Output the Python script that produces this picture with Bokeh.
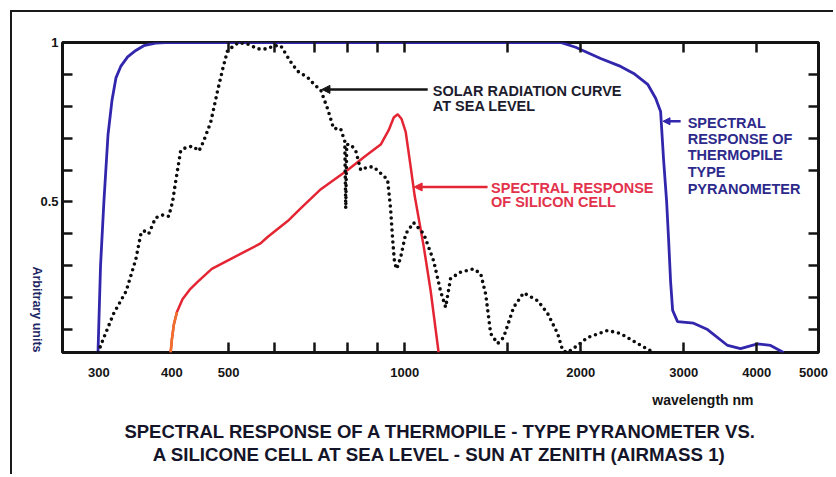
from bokeh.plotting import figure
from bokeh.models import (Range1d, FixedTicker, LogAxis, LinearAxis, Label, Arrow,
                          NormalHead, BasicTickFormatter, Title)
from bokeh.embed import file_html
from bokeh.resources import INLINE
import math

# ---------------- data ----------------
# Solar radiation at sea level (dotted)
solar_nm = [299, 306, 318, 334, 347, 354, 358, 365, 375, 387, 395, 401, 406, 414, 422,
            434, 445, 453, 466, 479, 489, 498, 520, 539, 561, 583, 597, 614, 638, 656,
            683, 699, 719, 739, 756, 777, 790, 793, 796, 809, 825, 841, 865, 885, 910,
            935, 946, 954, 961, 969, 984, 1004, 1036, 1078, 1121, 1152, 1175, 1198, 1246,
            1312, 1349, 1376, 1403, 1442, 1476, 1536, 1597, 1689, 1756, 1826, 1863, 1899,
            1975, 2055, 2223, 2340, 2502, 2665]
solar_val = [0.028, 0.075, 0.15, 0.22, 0.32, 0.40, 0.41, 0.40, 0.45, 0.46, 0.455, 0.50, 0.565,
             0.66, 0.67, 0.675, 0.66, 0.69, 0.75, 0.85, 0.92, 0.975, 1.0, 0.995, 0.98, 0.98,
             0.99, 0.99, 0.94, 0.91, 0.89, 0.87, 0.85, 0.79, 0.73, 0.73, 0.69, 0.48, 0.68,
             0.68, 0.66, 0.60, 0.61, 0.61, 0.59, 0.57, 0.48, 0.38, 0.31, 0.29, 0.325, 0.40,
             0.435, 0.40, 0.315, 0.22, 0.17, 0.26, 0.28, 0.29, 0.275, 0.21, 0.0875, 0.056,
             0.075, 0.17, 0.215, 0.19, 0.15, 0.0875, 0.034, 0.028, 0.05, 0.075, 0.097,
             0.0875, 0.056, 0.028]

# Spectral response of silicon cell (red)
si_nm = [398, 400, 403, 408, 417, 429, 443, 468, 498, 530, 567, 583, 631, 664, 719, 799,
         858, 910, 939, 958, 973, 988, 1004, 1024, 1040, 1078, 1108, 1143]
si_val = [0.028, 0.07, 0.115, 0.155, 0.195, 0.225, 0.25, 0.29, 0.316, 0.342, 0.37, 0.39,
          0.44, 0.48, 0.54, 0.60, 0.645, 0.68, 0.725, 0.765, 0.775, 0.76, 0.72, 0.61, 0.52,
          0.36, 0.22, 0.028]

# Spectral response of thermopile pyranometer (blue)
thermo_nm = [299, 302, 306, 311, 316, 321, 327, 336, 347, 358, 375, 390, 500, 1000, 1848,
             1960, 2163, 2340, 2464, 2603, 2686, 2739, 2772, 2805, 2827, 2849, 2872, 2928,
             3119, 3295, 3566, 3752, 4012, 4223, 4445]
thermo_val = [0.028, 0.30, 0.50, 0.71, 0.82, 0.89, 0.925, 0.955, 0.975, 0.99, 0.998, 1.0,
              1.0, 1.0, 1.0, 0.985, 0.95, 0.925, 0.903, 0.869, 0.825, 0.784, 0.63, 0.50,
              0.38, 0.25, 0.16, 0.125, 0.12, 0.10, 0.05, 0.04, 0.055, 0.05, 0.028]

x_tick_values = [300, 400, 500, 1000, 2000, 3000, 4000, 5000]
x_tick_labels = ["300", "400", "500", "1000", "2000", "3000", "4000", "5000"]
x_tick_marks = [500, 600, 700, 800, 900, 1000, 1500, 2000, 3000, 4000]
y_tick_values = [0.5, 1.0]
y_tick_labels = ["0.5", "1"]
y_tick_marks = [0.1, 0.2, 0.3, 0.4, 0.6, 0.7, 0.8, 0.9]

FONT = "Liberation Sans"
INK = "#141414"
BLUE = "#3226ad"
RED = "#e42533"

p = figure(width=823, height=464, x_axis_type="log",
           x_range=Range1d(260, 5100), y_range=Range1d(0.028, 1.0),
           output_backend="svg", toolbar_location=None,
           min_border_left=50, min_border_right=17, min_border_top=30, min_border_bottom=124,
           background_fill_color="white", border_fill_color="white",
           outline_line_color=INK, outline_line_width=3,
           styles={"margin-left": "10px", "margin-top": "10px",
                   "border-left": "2px solid #1a1a1a", "border-top": "2px solid #1a1a1a"})
p.grid.visible = False

# bottom axis
xa = p.xaxis[0]
xa.ticker = FixedTicker(ticks=x_tick_values, minor_ticks=x_tick_marks)
xa.formatter = BasicTickFormatter(use_scientific=False)
xa.major_label_overrides = {v: l for v, l in zip(x_tick_values, x_tick_labels)}
xa.major_tick_line_color = None
xa.major_tick_in = 0
xa.major_tick_out = 0
xa.minor_tick_in = 10
xa.minor_tick_out = 0
xa.minor_tick_line_width = 2.5
xa.minor_tick_line_color = INK
xa.axis_line_color = None
xa.major_label_standoff = 15
xa.major_label_text_font = FONT
xa.major_label_text_font_style = "bold"
xa.major_label_text_font_size = "13px"
xa.major_label_text_color = INK

# left axis
ya = p.yaxis[0]
ya.ticker = FixedTicker(ticks=y_tick_values, minor_ticks=y_tick_marks)
ya.major_label_overrides = {v: l for v, l in zip(y_tick_values, y_tick_labels)}
ya.major_tick_in = 10
ya.major_tick_out = 0
ya.major_tick_line_width = 2.5
ya.major_tick_line_color = INK
ya.minor_tick_in = 10
ya.minor_tick_out = 0
ya.minor_tick_line_width = 2.5
ya.minor_tick_line_color = INK
ya.axis_line_color = None
ya.major_label_standoff = 4
ya.major_label_text_font = FONT
ya.major_label_text_font_style = "bold"
ya.major_label_text_font_size = "13px"
ya.major_label_text_color = INK
ya.axis_label = "Arbitrary units"
ya.axis_label_text_font = FONT
ya.axis_label_text_font_style = "bold"
ya.axis_label_text_font_size = "12.5px"
ya.axis_label_text_color = "#1e2766"
ya.axis_label_standoff = 0
try:
    ya.axis_label_align = "start"
except AttributeError:
    pass
try:
    ya.axis_label_orientation = -math.pi / 2
except AttributeError:
    pass

# top axis (ticks only)
ta = LogAxis(ticker=FixedTicker(ticks=[], minor_ticks=x_tick_marks),
             axis_line_color=None, major_tick_out=0, major_tick_in=0,
             minor_tick_in=10, minor_tick_out=0, minor_tick_line_width=2.5,
             minor_tick_line_color=INK, major_label_standoff=0,
             major_label_text_font_size="0px")
p.add_layout(ta, "above")

# right axis (ticks only)
ra = LinearAxis(ticker=FixedTicker(ticks=[], minor_ticks=y_tick_marks),
                axis_line_color=None, major_tick_out=0, major_tick_in=0,
                minor_tick_in=10, minor_tick_out=0, minor_tick_line_width=2.5,
                minor_tick_line_color=INK, major_label_standoff=0,
                major_label_text_font_size="0px")
p.add_layout(ra, "right")

# curves
p.line(thermo_nm, thermo_val, line_color=BLUE, line_width=2.8)
p.line(si_nm, si_val, line_color=RED, line_width=2.5)
p.line(si_nm[:4], si_val[:4], line_color="#f0702a", line_width=2.5)
p.line(solar_nm, solar_val, line_color="#0c0c0c", line_width=3.6, line_dash="0 6",
       line_cap="round")

# arrows
p.add_layout(Arrow(end=NormalHead(size=8, fill_color=INK, line_color=INK),
                   x_start=1095, y_start=0.853, x_end=722, y_end=0.853,
                   line_color=INK, line_width=2.5))
p.add_layout(Arrow(end=NormalHead(size=8, fill_color=RED, line_color=RED),
                   x_start=1386, y_start=0.547, x_end=1038, y_end=0.547,
                   line_color=RED, line_width=2.5))
p.add_layout(Arrow(end=NormalHead(size=7, fill_color=BLUE, line_color=BLUE),
                   x_start=2964, y_start=0.753, x_end=2765, y_end=0.753,
                   line_color=BLUE, line_width=2.5))


def lab(x, y, text, color, size="14.5px", align="left"):
    p.add_layout(Label(x=x, y=y, text=text, text_font=FONT, text_font_style="bold",
                       text_font_size=size, text_color=color, text_align=align,
                       text_baseline="middle"))


lab(1117, 0.847, "SOLAR RADIATION CURVE", "#1c1c2e")
lab(1117, 0.800, "AT SEA LEVEL", "#1c1c2e")
lab(1405, 0.544, "SPECTRAL RESPONSE", "#e3324c")
lab(1405, 0.500, "OF SILICON CELL", "#e3324c")
for t, yy in zip(["SPECTRAL", "RESPONSE OF", "THERMOPILE", "TYPE", "PYRANOMETER"],
                 [0.747, 0.697, 0.647, 0.593, 0.541]):
    lab(3047, yy, t, "#2d2a8c")

# bottom texts as titles
p.add_layout(Title(text="wavelength nm", align="right", offset=65, standoff=22,
                   vertical_align="middle", text_font=FONT, text_font_style="bold",
                   text_font_size="14px", text_color=INK), "below")
p.add_layout(Title(text="SPECTRAL RESPONSE OF A THERMOPILE - TYPE PYRANOMETER VS.",
                   align="center", standoff=0, vertical_align="middle", text_font=FONT,
                   text_font_style="bold", text_font_size="18.5px", text_color="#15152a"),
             "below")
p.add_layout(Title(text="A SILICONE CELL AT SEA LEVEL - SUN AT ZENITH (AIRMASS 1)",
                   align="center", standoff=0, vertical_align="middle", text_font=FONT,
                   text_font_style="bold", text_font_size="18.7px", text_color="#15152a"),
             "below")

open("out.html", "w").write(file_html(p, INLINE))
